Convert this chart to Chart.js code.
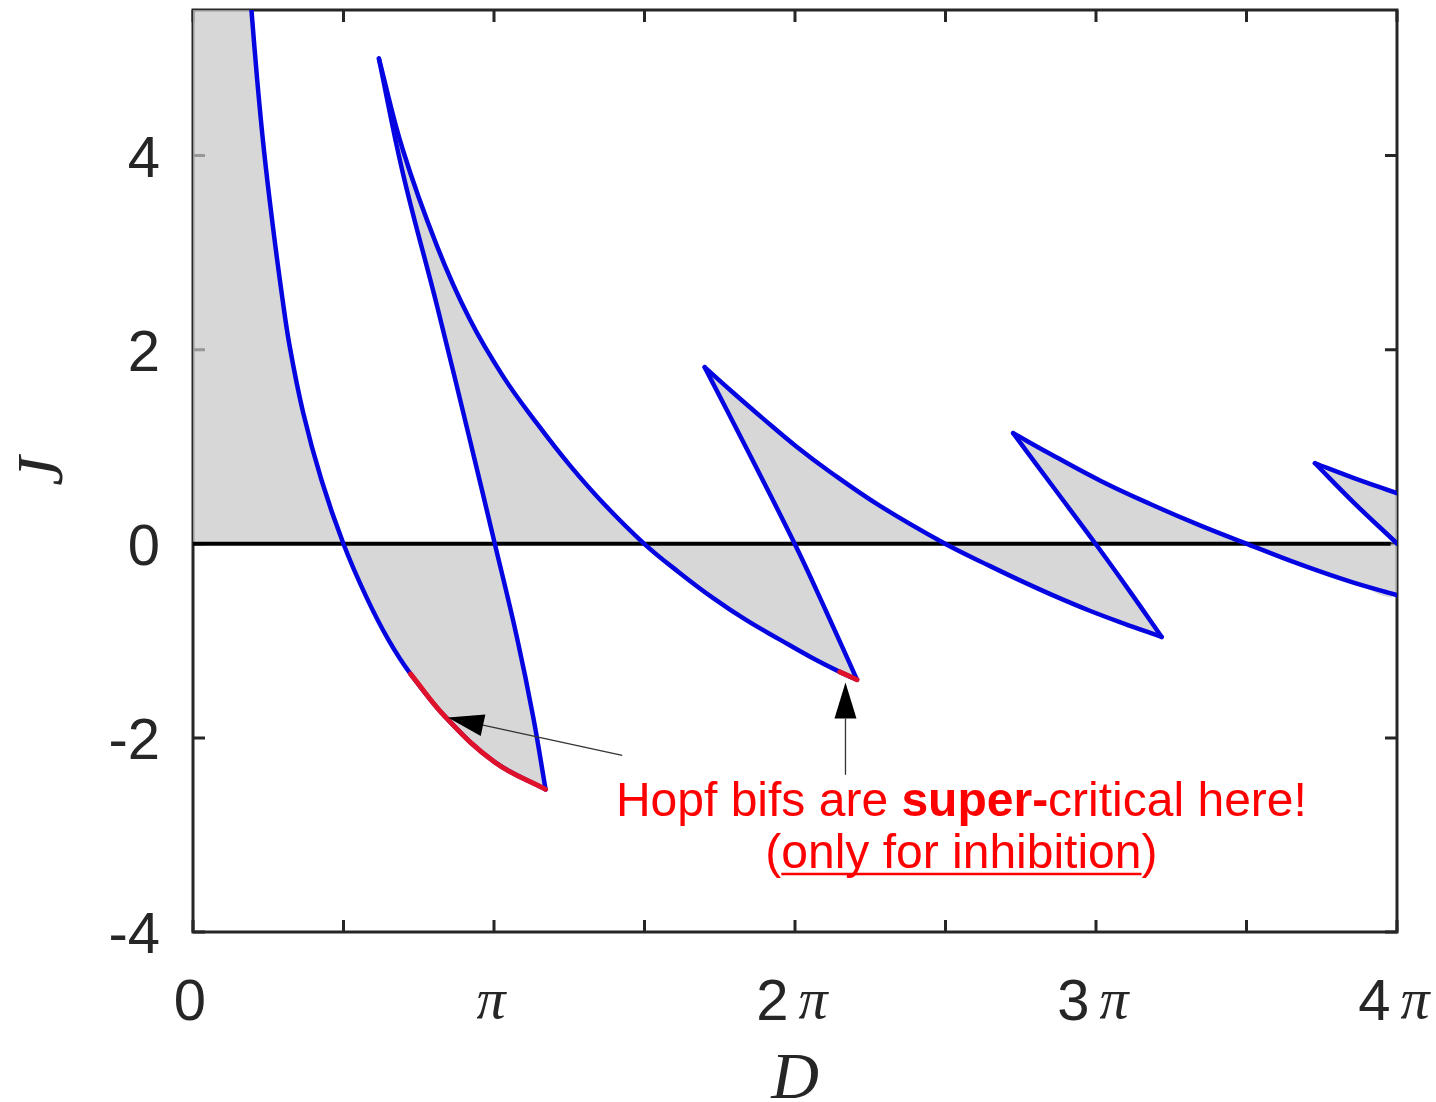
<!DOCTYPE html>
<html>
<head>
<meta charset="utf-8">
<script src="https://cdn.jsdelivr.net/npm/chart.js@4.4.0/dist/chart.umd.min.js"></script>
<style>
  body { margin: 0; background: #fff; }
</style>
</head>
<body>
<canvas id="chart" width="1436" height="1102"></canvas>
<script>
// Hopf curves in the (D, J) plane.
// every branch runs from its cusp downwards, J = 0 crossing included
var PI = Math.PI

var branch0 = [[0.61,5.50],[0.67,4.78],[0.74,4.06],[0.83,3.30],[0.93,2.55],[1.01,2.03],[1.15,1.35],[1.34,0.66],[1.57,0],
               [1.81,-0.55],[2.04,-0.99],[2.27,-1.34],[2.64,-1.79],[3.15,-2.25],[3.68,-2.53]]
var line1 = [[1.94,5.00],[2.19,3.82],[2.55,2.44],[2.89,1.07],[3.15,0],[3.38,-0.96],[3.55,-1.78],[3.68,-2.53]]
var curve1 = [[1.94,5.00],[2.19,4.06],[2.55,3.06],[2.89,2.31],[3.24,1.72],[3.59,1.24],[3.94,0.80],[4.29,0.41],[4.71,0],
              [5.08,-0.30],[5.43,-0.56],[5.78,-0.79],[6.13,-0.99],[6.47,-1.18],[6.75,-1.32],[6.93,-1.40]]
var line2 = [[5.34,1.82],[5.81,0.92],[6.28,0],[6.61,-0.70],[6.93,-1.40]]
var curve2 = [[5.34,1.82],[5.60,1.59],[5.95,1.29],[6.30,1.00],[6.65,0.74],[7.17,0.39],[7.85,0],
              [8.32,-0.23],[8.66,-0.39],[9.02,-0.55],[9.36,-0.69],[9.71,-0.82],[10.11,-0.96]]
var line3 = [[8.56,1.14],[8.99,0.57],[9.42,0],[9.77,-0.48],[10.11,-0.96]]
var curve3 = [[8.56,1.14],[8.94,0.93],[9.47,0.65],[9.99,0.41],[10.51,0.19],[11.00,0],[11.55,-0.21],[12.08,-0.39],[12.57,-0.53]]
var line4 = [[11.71,0.83],[12.11,0.43],[12.57,0]]
var curve4 = [[11.71,0.83],[12.11,0.68],[12.57,0.52]]

// super-critical parts (red)
var superCrit0 = branch0.slice(11)
var superCrit1 = curve1.slice(14)

var zeroLine = [[0,0],[12.50,0]]

var xTickLabels = [['0',''],['','π'],['2','π'],['3','π'],['4','π']]
var xTickValues = [0, PI, 2*PI, 3*PI, 4*PI]
var yTicks = [-4, -2, 0, 2, 4]

// annotation: arrow tails/tips and text anchors in data units
var arrows = [[[4.48,-2.18],[2.66,-1.79]], [[6.81,-2.38],[6.81,-1.43]]]
var noteAnchor = [8.02, -2.80]
var noteAnchor2 = [8.02, -3.34]

var xTickMarks = []
for (var k = 0; k <= 8; k++) xTickMarks.push(k * PI / 2)

function zeroIdx(b) { return b.findIndex(function(p){ return p[1] === 0 }) }
function upper(b) { var i = zeroIdx(b); return i < 0 ? b.slice() : b.slice(0, i + 1) }
function lower(b) { var i = zeroIdx(b); return i < 0 ? [] : b.slice(i) }
function rev(a) { return a.slice().reverse() }
function xy(pts) { return pts.map(function(p){ return {x: p[0], y: p[1]} }) }

// shaded areas; corners are doubled so the spline keeps them sharp
var regions = [
  [[0,0],[0,0],[0,5.5],[0,5.5],branch0[0]].concat(upper(branch0)),
  lower(branch0).concat(rev(lower(line1))),
  rev(upper(line1)).concat(upper(curve1)),
  lower(curve1).concat(rev(lower(line2))),
  rev(upper(line2)).concat(upper(curve2)),
  lower(curve2).concat(rev(lower(line3))),
  rev(upper(line3)).concat(upper(curve3)),
  lower(curve3).concat(rev(lower(line4))),
  rev(upper(line4)).concat(upper(curve4))
]

var BLUE = '#0505e2'
var RED = '#e0112b'
var TENSION = 0.4
var datasets = []

regions.forEach(function(r){
  datasets.push({data: xy(r), showLine: true, fill: 'shape', backgroundColor: 'rgba(198,198,198,0.7)',
    borderColor: 'rgba(0,0,0,0)', borderWidth: 0, pointRadius: 0, tension: TENSION, order: 4})
})
datasets.push({data: xy(zeroLine), showLine: true, borderColor: '#000', borderWidth: 4, pointRadius: 0, order: 3})
;[branch0, line1, curve1, line2, curve2, line3, curve3, line4, curve4].forEach(function(b){
  datasets.push({data: xy(b), showLine: true, borderColor: BLUE, borderWidth: 4.5, pointRadius: 0, tension: TENSION,
    borderJoinStyle: 'round', borderCapStyle: 'round', order: 2})
})
;[superCrit0, superCrit1].forEach(function(b){
  datasets.push({data: xy(b), showLine: true, borderColor: RED, borderWidth: 5, pointRadius: 0, tension: TENSION,
    borderJoinStyle: 'round', borderCapStyle: 'round', order: 1})
})

var SANS = '"Liberation Sans", Arial, sans-serif'
var SERIF = '"Liberation Serif", "Times New Roman", serif'

var framePlugin = {
  id: 'matlabFrame',
  beforeDatasetsDraw: function(chart) {
    var ctx = chart.ctx, a = chart.chartArea
    var xs = chart.scales.x, ys = chart.scales.y
    ctx.save()
    ctx.strokeStyle = '#262626'
    ctx.lineWidth = 3
    ctx.strokeRect(a.left, a.top, a.right - a.left, a.bottom - a.top)
    ctx.beginPath()
    xTickMarks.forEach(function(v){
      var px = xs.getPixelForValue(v)
      ctx.moveTo(px, a.bottom); ctx.lineTo(px, a.bottom - 12)
      ctx.moveTo(px, a.top); ctx.lineTo(px, a.top + 12)
    })
    yTicks.forEach(function(v){
      var py = ys.getPixelForValue(v)
      ctx.moveTo(a.left, py); ctx.lineTo(a.left + 12, py)
      ctx.moveTo(a.right, py); ctx.lineTo(a.right - 12, py)
    })
    ctx.stroke()
    ctx.restore()
  },
  afterDraw: function(chart) {
    var ctx = chart.ctx, a = chart.chartArea
    var xs = chart.scales.x, ys = chart.scales.y
    ctx.save()
    ctx.fillStyle = '#262626'
    // y tick labels
    ctx.font = '58px ' + SANS
    ctx.textAlign = 'right'
    ctx.textBaseline = 'alphabetic'
    yTicks.forEach(function(v){
      ctx.fillText(String(v), a.left - 33, ys.getPixelForValue(v) + 21)
    })
    // x tick labels, digit in sans, pi in serif italic
    ctx.textAlign = 'left'
    xTickLabels.forEach(function(lab, i){
      var px = xs.getPixelForValue(xTickValues[i])
      ctx.font = '58px ' + SANS
      var w1 = ctx.measureText(lab[0]).width
      var gap = lab[0] && lab[1] ? 10 : 0
      ctx.font = 'italic 58px ' + SERIF
      var w2 = ctx.measureText(lab[1]).width
      var x0 = px - (w1 + gap + w2) / 2 - 3
      ctx.font = '58px ' + SANS
      ctx.fillText(lab[0], x0, a.bottom + 88)
      ctx.font = 'italic 58px ' + SERIF
      ctx.fillText(lab[1], x0 + w1 + gap, a.bottom + 86)
    })
    // axis titles
    ctx.font = 'italic 66px ' + SERIF
    ctx.textAlign = 'center'
    ctx.fillText('D', (a.left + a.right) / 2, 1098)
    ctx.save()
    ctx.translate(62, (a.top + a.bottom) / 2)
    ctx.rotate(-PI / 2)
    ctx.fillText('J', 0, 0)
    ctx.restore()

    // arrows
    arrows.forEach(function(ar){
      var x1 = xs.getPixelForValue(ar[0][0]), y1 = ys.getPixelForValue(ar[0][1])
      var x2 = xs.getPixelForValue(ar[1][0]), y2 = ys.getPixelForValue(ar[1][1])
      var ang = Math.atan2(y2 - y1, x2 - x1)
      var hl = 36, hw = 11
      var bx = x2 - hl * Math.cos(ang), by = y2 - hl * Math.sin(ang)
      ctx.strokeStyle = '#333'
      ctx.lineWidth = 1.3
      ctx.beginPath(); ctx.moveTo(x1, y1); ctx.lineTo(bx, by); ctx.stroke()
      ctx.fillStyle = '#000'
      ctx.beginPath()
      ctx.moveTo(x2, y2)
      ctx.lineTo(bx + hw * Math.sin(ang), by - hw * Math.cos(ang))
      ctx.lineTo(bx - hw * Math.sin(ang), by + hw * Math.cos(ang))
      ctx.closePath(); ctx.fill()
    })

    // note text
    ctx.fillStyle = '#ff0000'
    ctx.strokeStyle = '#ff0000'
    ctx.textAlign = 'left'
    var parts = [['Hopf bifs are ', ''], ['super-', 'bold '], ['critical here!', '']]
    var total = 0
    parts.forEach(function(p){ ctx.font = p[1] + '48px ' + SANS; total += ctx.measureText(p[0]).width })
    var cx = xs.getPixelForValue(noteAnchor[0])
    var tx = cx - total / 2, ty = ys.getPixelForValue(noteAnchor[1])
    parts.forEach(function(p){
      ctx.font = p[1] + '48px ' + SANS
      ctx.fillText(p[0], tx, ty)
      tx += ctx.measureText(p[0]).width
    })
    ctx.font = '48px ' + SANS
    var s1 = ctx.measureText('(').width, s2 = ctx.measureText('only for inhibition').width
    var tx2 = cx - (2 * s1 + s2) / 2, ty2 = ys.getPixelForValue(noteAnchor2[1])
    ctx.fillText('(', tx2, ty2)
    ctx.fillText('only for inhibition', tx2 + s1, ty2)
    ctx.fillText(')', tx2 + s1 + s2, ty2)
    ctx.lineWidth = 2.5
    ctx.beginPath(); ctx.moveTo(tx2 + s1, ty2 + 6); ctx.lineTo(tx2 + s1 + s2, ty2 + 6); ctx.stroke()
    ctx.restore()
  }
}

new Chart(document.getElementById('chart'), {
  type: 'scatter',
  data: {datasets: datasets},
  options: {
    responsive: false,
    animation: false,
    layout: {padding: {left: 193, right: 39, top: 10, bottom: 170}},
    scales: {
      x: {type: 'linear', min: 0, max: 4 * PI, display: false},
      y: {type: 'linear', min: -4, max: 5.5, display: false}
    },
    plugins: {legend: {display: false}, tooltip: {enabled: false}}
  },
  plugins: [framePlugin]
})
</script>
</body>
</html>
